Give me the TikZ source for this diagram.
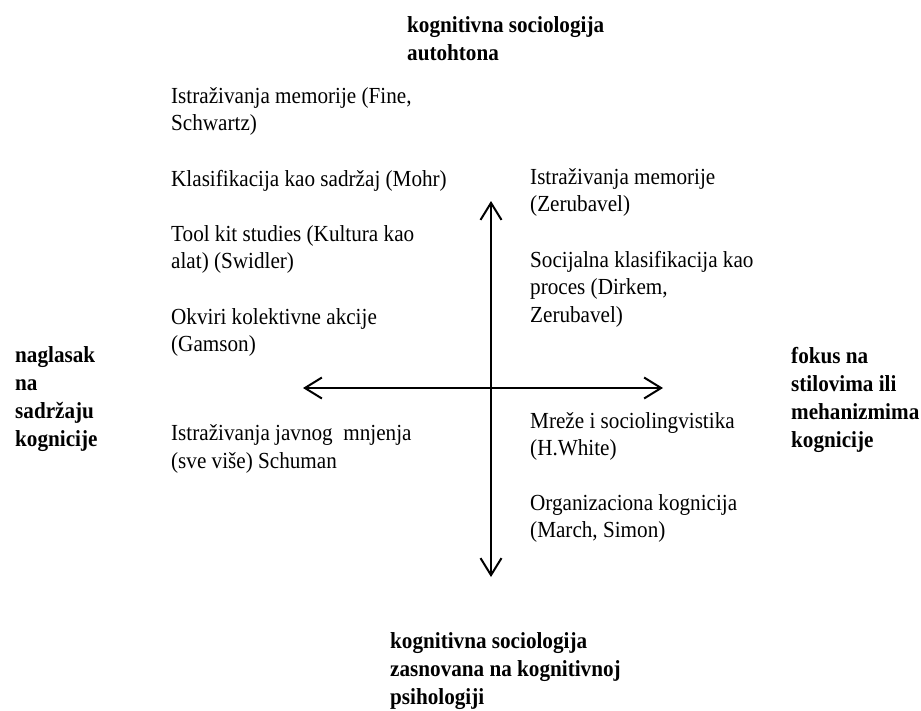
\documentclass[tikz,border=0pt]{standalone}
\usepackage{fontspec}
\setmainfont{Liberation Serif}[FakeStretch=0.92]
\usetikzlibrary{arrows.meta}

\begin{document}
\begin{tikzpicture}[x=1pt,y=-1pt,
    item/.style={anchor=north west,inner sep=0pt,align=left,font=\fontsize{23}{27.5}\selectfont},
    pole/.style={item,font=\fontsize{23}{28}\selectfont\bfseries},
    axis/.style={line width=2pt,{Straight Barb[length=17pt,width=21pt]}-{Straight Barb[length=17pt,width=21pt]}}]
    \useasboundingbox (0,0) rectangle (921,710);
    \node[pole] (autoht) at (407,16) {kognitivna sociologija\\autohtona};
    \node[pole] (psiho) at (390,632) {kognitivna sociologija\\zasnovana na kognitivnoj\\psihologiji};
    \node[pole] (sadrzaj) at (15,346) {naglasak\\na\\sadržaju\\kognicije};
    \node[pole] (stil) at (791,347) {fokus na\\stilovima ili\\mehanizmima\\kognicije};
    \node[item] (memfine) at (171,87) {Istraživanja memorije (Fine,\\Schwartz)};
    \node[item] (klas) at (171,170) {Klasifikacija kao sadržaj (Mohr)};
    \node[item] (toolkit) at (171,225) {Tool kit studies (Kultura kao\\alat) (Swidler)};
    \node[item] (okviri) at (171,308) {Okviri kolektivne akcije\\(Gamson)};
    \node[item] (javno) at (171,424.5) {Istraživanja javnog\ \ mnjenja\\(sve više) Schuman};
    \node[item] (memzer) at (530,168) {Istraživanja memorije\\(Zerubavel)};
    \node[item] (socklas) at (530,251) {Socijalna klasifikacija kao\\proces (Dirkem,\\Zerubavel)};
    \node[item] (mreze) at (530,412) {Mreže i sociolingvistika\\(H.White)};
    \node[item] (organiz) at (530,494) {Organizaciona kognicija\\(March, Simon)};
    \coordinate (n) at (491,201);
    \coordinate (s) at (491,577);
    \coordinate (w) at (303,388);
    \coordinate (e) at (663,388);
    \draw[axis] (w) -- (e);
    \draw[axis] (s) -- (n);
\end{tikzpicture}
\end{document}
